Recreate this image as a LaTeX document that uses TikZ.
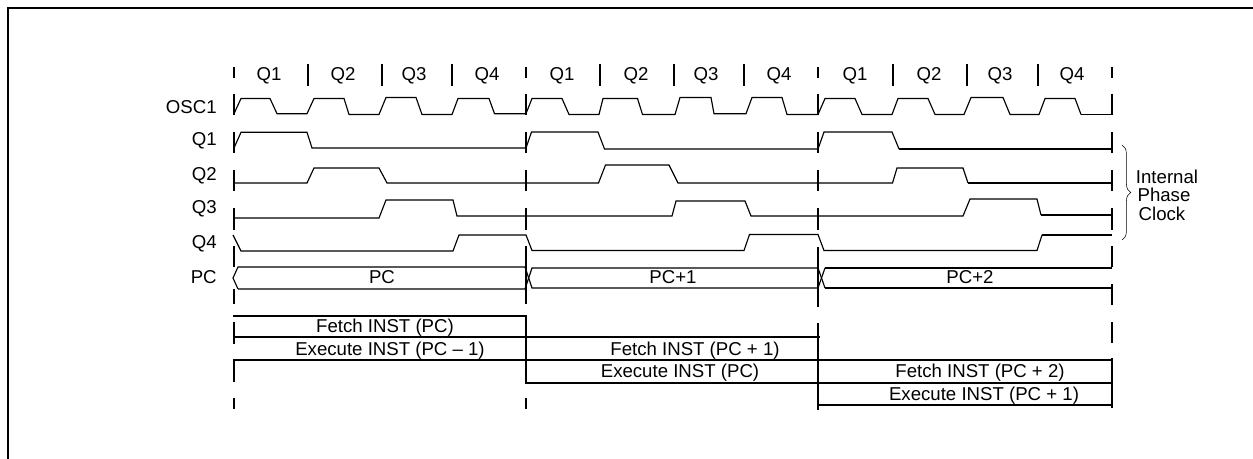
\documentclass[tikz,border=0pt]{standalone}
\usepackage{fontspec}
\setmainfont{Liberation Sans}
\usetikzlibrary{decorations.pathreplacing}

\tikzset{
  wave/.style={line width=0.65pt, line join=miter},
  tick/.style={line width=0.95pt},
  lane/.style={line width=0.95pt},
  label/.style={font=\fontsize{10.6}{12}\selectfont, inner sep=0pt, text height=7.6pt, text depth=0pt}
}

\begin{document}
\begin{tikzpicture}[x=0.02cm, y=-0.02cm]
\useasboundingbox (0,0) rectangle (1253,459);

% Frame
\draw[line width=1.3pt] (8,459) -- (8,8) -- (1253,8);

% Header ticks
\foreach \x in {234,526,818,1112} \draw[tick] (\x,67) -- (\x,78);
\foreach \x in {308,382,452,600,674,744,893,967,1038} \draw[tick] (\x,64) -- (\x,86);

% Phase names
\foreach \x/\q [count=\i] in {269/Q1,343/Q2,414/Q3,487/Q4,562/Q1,636/Q2,706/Q3,779/Q4,855/Q1,929/Q2,1000/Q3,1072/Q4}
  \node[label] (head\i) at (\x,74) {\q};

% Signal names
\foreach \y/\s in {107/OSC1,139/Q1,174/Q2,207/Q3,242/Q4,277/PC}
  \node[label, anchor=east] (name\s) at (217,\y) {\s};

% Vertical guides
\foreach \x in {234,526,818,1112} {
  \draw[tick] (\x,94) -- (\x,115);
  \draw[tick] (\x,132) -- (\x,153);
  \draw[tick] (\x,170) -- (\x,191);
  \draw[tick] (\x,208) -- (\x,230);
}
\draw[tick] (234,246) -- (234,267);
\draw[tick] (234,289) -- (234,304);
\draw[tick] (526,246) -- (526,304);
\draw[tick] (818,247) -- (818,307);
\draw[tick] (1112,246) -- (1112,267);
\draw[tick] (1112,284) -- (1112,305);

% OSC1
\draw[wave] (234,113.7) -- (241,98.5) -- (270,98.5) -- (277,113.7) -- (307,113.7) -- (314,98.5)
  -- (344,98.5) -- (349,114.5) -- (379,114.5) -- (386,97.5) -- (416,97.5) -- (422,114.5)
  -- (452,114.5) -- (458,98.5) -- (489,98.5) -- (494.5,113.7) -- (526,113.7) -- (532,98.5)
  -- (562,98.5) -- (569,114.5) -- (599,114.5) -- (603,98.5) -- (637.5,98.5) -- (642.5,114.5)
  -- (675,114.5) -- (680,97.5) -- (711,97.5) -- (714,113.7) -- (746,113.7) -- (752,97.5)
  -- (782,97.5) -- (787,114.5) -- (818,114.5) -- (825,98.5) -- (855,98.5) -- (862,114.5)
  -- (892,114.5) -- (898,98.5) -- (928,98.5) -- (935,114.5) -- (964,114.5) -- (971,97.5)
  -- (1003,97.5) -- (1010,114.5) -- (1039,114.5) -- (1045,98.5) -- (1075,98.5) -- (1081,114.5);
\draw[lane] (1081,114.5) -- (1112,114.5);

% Q1
\draw[wave] (234,148) -- (241,132.3) -- (307,132.3) -- (312,148) -- (526,148) -- (531.5,132)
  -- (598,132) -- (604.5,149) -- (818,149) -- (824,132) -- (892,132) -- (899,149);
\draw[lane] (899,149) -- (1112,149);

% Q2
\draw[wave] (234,183) -- (307,183) -- (314,168) -- (379,168) -- (387,183) -- (598.5,183)
  -- (605.5,165) -- (669,165) -- (678,183) -- (892.5,183) -- (897,168) -- (963,168) -- (968,183);
\draw[lane] (968,183) -- (1112,183);

% Q3
\draw[wave] (234,218) -- (379,218) -- (386,200) -- (453,200) -- (457,216) -- (672,216)
  -- (676,201) -- (745,201) -- (751,216) -- (963,216) -- (970,199) -- (1037,199) -- (1041,215);
\draw[lane] (1041,215) -- (1112,215);

% Q4
\draw[wave] (233,235) -- (241,251) -- (453,251) -- (459,235) -- (526,235) -- (532,250.5)
  -- (744,250.5) -- (749.5,234.5) -- (818,234.5) -- (824,250.5) -- (1037,250.5) -- (1042,235);
\draw[lane] (1042,235) -- (1112,235);

% PC bus
\draw[wave] (238,289) -- (233,278) -- (238,267) -- (525,267) -- (532,288) -- (818,288) -- (825,268);
\draw[wave] (238,289) -- (525,289) -- (532,268) -- (818,268) -- (825,288);
\draw[lane] (825,268) -- (1112,268);
\draw[lane] (825,288) -- (1112,288);
\node[label] (pcA) at (382,277) {PC};
\node[label] (pcB) at (673,277) {PC+1};
\node[label] (pcC) at (970,277) {PC+2};

% Instruction rows
\draw[lane] (233,316) -- (526,316) -- (526,382.7) -- (1112,382.7);
\draw[lane] (234,337) -- (820,337);
\draw[lane] (233,360) -- (1112,360);
\draw[lane] (818,405) -- (1112,405);
\draw[tick] (234,322) -- (234,344);
\draw[tick] (234,360) -- (234,382);
\draw[tick] (234,398) -- (234,409);
\draw[tick] (526,398) -- (526,409);
\draw[tick] (818,323) -- (818,410);
\draw[tick] (1112,322) -- (1112,343);
\draw[tick] (1112,358) -- (1112,408);

\node[label] (fetchA) at (385,326) {Fetch INST (PC)};
\node[label] (execA) at (390,349) {Execute INST (PC – 1)};
\node[label] (fetchB) at (695,349) {Fetch INST (PC + 1)};
\node[label] (execB) at (680,371) {Execute INST (PC)};
\node[label] (fetchC) at (980,371) {Fetch INST (PC + 2)};
\node[label] (execC) at (984,394) {Execute INST (PC + 1)};

% Brace
\draw[line width=0.3pt, decorate, decoration={brace, amplitude=5pt}] (1122,145) -- (1122,240);
\node[label] (clkA) at (1167,177) {Internal};
\node[label] (clkB) at (1164,195) {Phase};
\node[label] (clkC) at (1162,214) {Clock};
\end{tikzpicture}
\end{document}
